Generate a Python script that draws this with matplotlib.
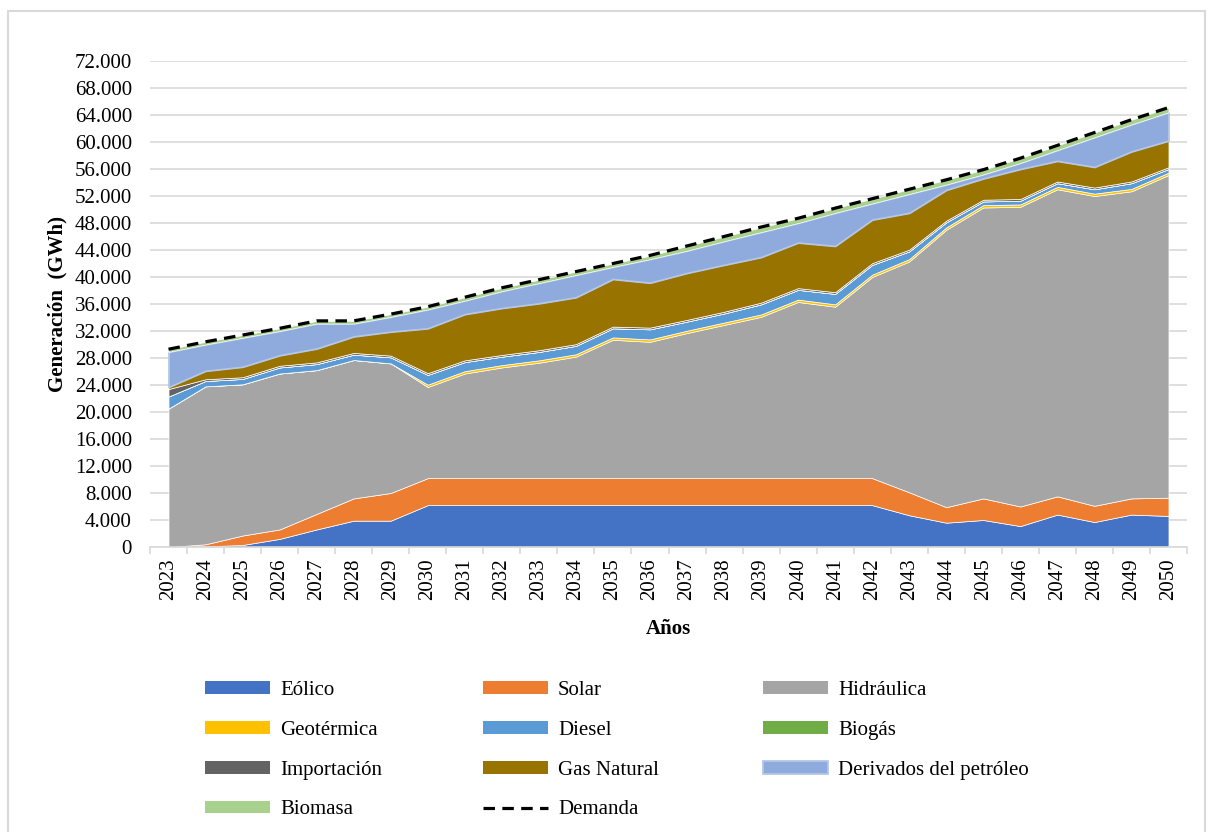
import numpy as np
import matplotlib
matplotlib.use("Agg")
import matplotlib.pyplot as plt
from matplotlib.patches import Patch, Rectangle
from matplotlib.lines import Line2D
from matplotlib.ticker import FuncFormatter, MultipleLocator

plt.rcParams['font.family'] = ['Liberation Serif', 'DejaVu Serif']

years = list(range(2023, 2051))

# generación por fuente (GWh)
eolico = [0, 100, 300, 1200, 2600, 3900, 3900,
          6200, 6200, 6200, 6200, 6200, 6200, 6200, 6200, 6200, 6200, 6200, 6200, 6200,
          4700, 3600, 4000, 3100, 4800, 3700, 4800, 4600]
solar = [0, 300, 1400, 1400, 2300, 3300, 4100,
         4000, 4000, 4000, 4000, 4000, 4000, 4000, 4000, 4000, 4000, 4000, 4000, 4000,
         3400, 2300, 3200, 2900, 2700, 2400, 2400, 2700]
hidraulica = [20500, 23400, 22400, 23100, 21300, 20500, 19200,
              13500, 15500, 16400, 17100, 18000, 20500, 20200, 21500, 22700, 23900, 26100, 25400, 29800,
              34200, 41100, 43100, 44400, 45500, 45900, 45500, 47800]
geotermica = [0, 0, 0, 0, 0, 0, 0,
              350, 350, 350, 350, 350, 350, 350, 350, 350, 350, 350, 350, 350,
              350, 350, 350, 350, 350, 350, 350, 350]
diesel = [1800, 800, 800, 900, 900, 800, 900,
          1450, 1350, 1250, 1250, 1250, 1350, 1500, 1350, 1350, 1500, 1450, 1550, 1450,
          1150, 750, 550, 550, 550, 650, 850, 550]
biogas = [0, 0, 0, 0, 0, 0, 0,
          0, 0, 0, 0, 0, 0, 0, 0, 0, 0, 0, 0, 0,
          0, 0, 0, 0, 0, 0, 0, 0]
importacion = [1100, 250, 250, 250, 250, 250, 250,
               250, 250, 250, 250, 250, 250, 250, 250, 250, 250, 250, 250, 250,
               250, 250, 250, 250, 250, 250, 250, 250]
gas_natural = [300, 1250, 1550, 1550, 2050, 2450, 3550,
               6650, 6850, 6950, 6950, 6950, 7050, 6650, 6950, 6950, 6750, 6750, 6850, 6450,
               5450, 4550, 3150, 4450, 3050, 3050, 4450, 3950]
derivados = [5200, 3900, 4300, 3600, 3700, 1900, 2200,
             2800, 2000, 2500, 3000, 3300, 1800, 3500, 3300, 3500, 3700, 2900, 4900, 2400,
             2800, 800, 600, 900, 1600, 4400, 4000, 4200]
biomasa = [400, 400, 400, 400, 400, 400, 400,
           400, 500, 500, 500, 500, 500, 500, 700, 700, 700, 700, 700, 700,
           700, 700, 700, 700, 700, 700, 700, 700]
demanda = [29300, 30400, 31400, 32400, 33500, 33500, 34500,
           35600, 37000, 38400, 39600, 40800, 42000, 43200, 44600, 46000, 47400, 48700, 50200, 51600,
           53000, 54400, 55900, 57600, 59500, 61400, 63300, 65100]

labels = ['Eólico', 'Solar', 'Hidráulica', 'Geotérmica', 'Diesel', 'Biogás',
          'Importación', 'Gas Natural', 'Derivados del petróleo', 'Biomasa']
colors = ['#4472C4', '#ED7D31', '#A5A5A5', '#FFC000', '#5B9BD5', '#70AD47',
          '#636363', '#997300', '#8FAADC', '#A9D18E']
series = [eolico, solar, hidraulica, geotermica, diesel, biogas,
          importacion, gas_natural, derivados, biomasa]

fig = plt.figure(figsize=(12.12, 8.32), dpi=100)
ax = fig.add_axes([150 / 1212, 1 - 547 / 832, 1037 / 1212, 486 / 832])

polys = ax.stackplot(years, *series, colors=colors, labels=labels, zorder=2)
for p, c in zip(polys, colors):
    p.set_edgecolor('white')
    p.set_alpha(1)
    p.set_linewidth(0.5)
polys[8].set_edgecolor('#B4C7E7')
polys[8].set_linewidth(1.3)

ax.plot(years, demanda, color='black', lw=2.3, ls=(0, (3.6, 2.3)), zorder=4)

ax.set_xlim(2022.5, 2050.5)
ax.set_ylim(0, 72000)
ax.yaxis.set_major_locator(MultipleLocator(4000))
ax.yaxis.set_major_formatter(FuncFormatter(lambda v, _: f'{int(v):,}'.replace(',', '.')))
ax.set_xticks(years)
ax.set_xticklabels([str(y) for y in years], rotation=90)
ax.set_xticks(np.arange(2022.5, 2051, 1), minor=True)

ax.grid(axis='y', color='#D9D9D9', lw=1.2, zorder=0)
ax.set_axisbelow(True)
for s in ['top', 'right', 'left']:
    ax.spines[s].set_visible(False)
ax.spines['bottom'].set_color('#D9D9D9')
ax.spines['bottom'].set_linewidth(1.2)

ax.tick_params(axis='y', length=0, pad=13, labelsize=15)
ax.tick_params(axis='x', which='major', length=0, pad=8, labelsize=15)
ax.tick_params(axis='x', which='minor', length=5, width=1.2, color='#D9D9D9')

ax.set_ylabel('Generación  (GWh)', fontsize=15, fontweight='bold', labelpad=5)
ax.set_xlabel('Años', fontsize=15, fontweight='bold', labelpad=14)

# leyenda en tres columnas
demanda_handle = Line2D([0], [0], color='black', lw=2.3, ls=(0, (3.6, 2.3)))
cols = [
    [(0, 'Eólico'), (3, 'Geotérmica'), (6, 'Importación'), (9, 'Biomasa')],
    [(1, 'Solar'), (4, 'Diesel'), (7, 'Gas Natural'), (None, 'Demanda')],
    [(2, 'Hidráulica'), (5, 'Biogás'), (8, 'Derivados del petróleo')],
]
col_x = [205, 483, 763]
for cx, entries in zip(col_x, cols):
    handles = []
    names = []
    for idx, name in entries:
        if idx is None:
            handles.append(demanda_handle)
        elif idx == 8:
            handles.append(Patch(facecolor=colors[idx], edgecolor='#B4C7E7', lw=1.3))
        else:
            handles.append(Patch(facecolor=colors[idx], edgecolor='none'))
        names.append(name)
    fig.legend(handles, names, loc='upper left', bbox_to_anchor=(cx / 1212, 1 - 681 / 832),
               frameon=False, fontsize=15, handlelength=3.1, handleheight=0.55,
               handletextpad=0.5, labelspacing=1.0, borderpad=0, borderaxespad=0)

fig.patches.append(Rectangle((8 / 1212, -0.01), 1197 / 1212, 1.01 - 11 / 832,
                             transform=fig.transFigure, fill=False,
                             edgecolor='#D9D9D9', lw=1.5))

fig.savefig('out.png', dpi=100)
